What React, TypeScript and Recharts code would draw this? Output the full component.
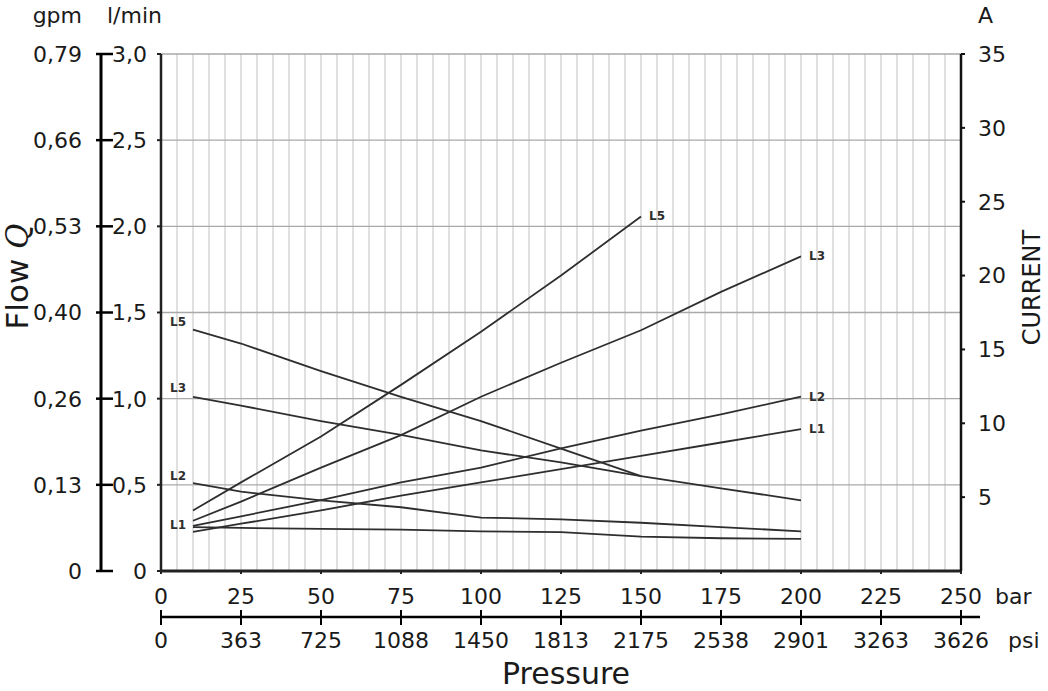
import { LineChart, Line, XAxis, YAxis, CartesianGrid, LabelList } from "recharts";

const FONT = "DejaVu Sans";
const INK = "#1a1a1a";
const CURVE = "#2e2e2e";

const pressure = [10, 25, 50, 75, 100, 125, 150, 175, 200];

// flow Q, l/min (falling curves, left axis)
const flowL5 = [1.4, 1.32, 1.16, 1.01, 0.87, 0.71, 0.55];
const flowL3 = [1.01, 0.96, 0.87, 0.79, 0.7, 0.63, 0.55, 0.48, 0.41];
const flowL2 = [0.51, 0.46, 0.41, 0.37, 0.31, 0.3, 0.28, 0.255, 0.23];
const flowL1 = [0.255, 0.25, 0.245, 0.24, 0.23, 0.226, 0.2, 0.19, 0.186];

// current, A (rising curves, right axis)
const currentL5 = [4.1, 6.0, 9.1, 12.6, 16.2, 20.0, 24.0];
const currentL3 = [3.4, 4.7, 7.0, 9.2, 11.8, 14.1, 16.3, 18.9, 21.3];
const currentL2 = [3.05, 3.7, 4.8, 6.0, 7.0, 8.3, 9.5, 10.6, 11.8];
const currentL1 = [2.65, 3.2, 4.1, 5.1, 6.0, 6.9, 7.8, 8.7, 9.6];

// axes
const barTicks = [0, 25, 50, 75, 100, 125, 150, 175, 200, 225, 250];
const psiTickLabels = ["0", "363", "725", "1088", "1450", "1813", "2175", "2538", "2901", "3263", "3626"];
const flowTicks = [0, 0.5, 1, 1.5, 2, 2.5, 3];
const flowTickLabels = ["0", "0,5", "1,0", "1,5", "2,0", "2,5", "3,0"];
const gpmTickLabels = ["0", "0,13", "0,26", "0,40", "0,53", "0,66", "0,79"];
const currentTicks = [5, 10, 15, 20, 25, 30, 35];
const fineBarGrid = Array.from({ length: 51 }, (_, i) => i * 5);

const data = pressure.map((p, i) => ({
  p,
  flowL5: flowL5[i],
  flowL3: flowL3[i],
  flowL2: flowL2[i],
  flowL1: flowL1[i],
  currentL5: currentL5[i],
  currentL3: currentL3[i],
  currentL2: currentL2[i],
  currentL1: currentL1[i],
}));

const tickText = { fill: INK, fontSize: 22, fontFamily: FONT };

// left side: l/min label next to the plot, gpm scale further out on its own line
function FlowTick(props: any) {
  const { x, y, index } = props;
  return (
    <g>
      <text x={x - 10} y={y} dy="0.36em" textAnchor="end" {...tickText}>
        {flowTickLabels[index]}
      </text>
      <line x1={x - 61} x2={x - 44} y1={y} y2={y} stroke="#000" strokeWidth={2.5} />
      <text x={x - 75} y={y} dy="0.36em" textAnchor="end" {...tickText}>
        {gpmTickLabels[index]}
      </text>
    </g>
  );
}

// bottom: bar label under the plot, psi scale below it
function BarTick(props: any) {
  const { x, y, index } = props;
  return (
    <g>
      <text x={x} y={y + 14} dy="0.73em" textAnchor="middle" {...tickText}>
        {barTicks[index]}
      </text>
      <line x1={x} x2={x} y1={y + 36} y2={y + 51} stroke="#000" strokeWidth={2} />
      <text x={x} y={y + 58} dy="0.73em" textAnchor="middle" {...tickText}>
        {psiTickLabels[index]}
      </text>
    </g>
  );
}

const flowTitle = (props: any) => {
  const vb = props.viewBox;
  const cx = vb.x + 28;
  const cy = vb.y + vb.height / 2 - 36;
  return (
    <g>
      <line x1={vb.x + 101} x2={vb.x + 101} y1={vb.y} y2={vb.y + vb.height} stroke="#000" strokeWidth={3} />
      <text x={vb.x + 82} y={23} textAnchor="end" {...tickText}>gpm</text>
      <text x={vb.x + 107} y={23} textAnchor="start" {...tickText}>l/min</text>
      <text x={cx} y={cy} transform={`rotate(-90, ${cx}, ${cy})`} textAnchor="middle" fill={INK} fontSize={31} fontFamily={FONT}>
        Flow <tspan fontFamily="DejaVu Serif" fontStyle="italic">Q</tspan>
      </text>
    </g>
  );
};

const currentTitle = (props: any) => {
  const vb = props.viewBox;
  const cx = vb.x + 79;
  const cy = vb.y + vb.height / 2 - 25;
  return (
    <g>
      <text x={vb.x + 17} y={23} textAnchor="start" {...tickText}>A</text>
      <text x={cx} y={cy} transform={`rotate(-90, ${cx}, ${cy})`} textAnchor="middle" fill={INK} fontSize={24} fontFamily={FONT}>
        CURRENT
      </text>
    </g>
  );
};

const pressureTitle = (props: any) => {
  const vb = props.viewBox;
  const psiY = vb.y + 46;
  return (
    <g>
      <text x={vb.x + vb.width + 34} y={vb.y + 33} textAnchor="start" {...tickText}>bar</text>
      <line x1={vb.x} x2={vb.x + vb.width + 19} y1={psiY} y2={psiY} stroke="#000" strokeWidth={2.5} />
      <text x={vb.x + vb.width + 47} y={psiY + 31} textAnchor="start" {...tickText}>psi</text>
      <text x={vb.x + vb.width / 2 + 5} y={vb.y + 113} textAnchor="middle" fill={INK} fontSize={30} fontFamily={FONT}>
        Pressure
      </text>
    </g>
  );
};

const curveTag = { fontSize: 12, fontWeight: 700, fontFamily: FONT, fill: CURVE };

const startTag = (name: string, dy: number) => (props: any) => {
  if (props.index !== 0) return null;
  return (
    <text x={props.x - 7} y={props.y + dy} textAnchor="end" {...curveTag}>
      {name}
    </text>
  );
};

const endTag = (name: string, count: number) => (props: any) => {
  if (props.index !== count - 1) return null;
  return (
    <text x={props.x + 8} y={props.y + 4} textAnchor="start" {...curveTag}>
      {name}
    </text>
  );
};

const curve = {
  type: "linear" as const,
  stroke: CURVE,
  strokeWidth: 1.8,
  dot: false,
  isAnimationActive: false,
};

export default function App() {
  return (
    <div style={{ position: "absolute", left: 0, top: 0, fontFamily: FONT }}>
      <LineChart width={1048} height={691} data={data} margin={{ top: 54, right: 0, bottom: 0, left: 0 }}>
        <CartesianGrid
          yAxisId="flow"
          horizontal={false}
          verticalValues={fineBarGrid}
          stroke="#cfcfcf"
          strokeWidth={1.3}
        />
        <CartesianGrid yAxisId="flow" vertical={false} stroke="#a9a9a9" strokeWidth={1.3} />
        <XAxis
          dataKey="p"
          type="number"
          domain={[0, 250]}
          ticks={barTicks}
          interval={0}
          height={120}
          tickSize={3}
          tickMargin={0}
          tick={<BarTick />}
          axisLine={{ stroke: "#222", strokeWidth: 3 }}
          tickLine={{ stroke: "#222", strokeWidth: 2 }}
          label={{ content: pressureTitle }}
        />
        <YAxis
          yAxisId="flow"
          type="number"
          domain={[0, 3]}
          ticks={flowTicks}
          interval={0}
          width={161}
          tickSize={4}
          tickMargin={0}
          tick={<FlowTick />}
          axisLine={{ stroke: "#222", strokeWidth: 2.5 }}
          tickLine={{ stroke: "#222", strokeWidth: 2 }}
          label={{ content: flowTitle }}
        />
        <YAxis
          yAxisId="current"
          orientation="right"
          type="number"
          domain={[0, 35]}
          ticks={currentTicks}
          interval={0}
          width={87}
          tickSize={4}
          tickMargin={13}
          tick={tickText}
          axisLine={{ stroke: "#111", strokeWidth: 2.5 }}
          tickLine={{ stroke: "#111", strokeWidth: 2 }}
          label={{ content: currentTitle }}
        />

        <Line {...curve} yAxisId="flow" dataKey="flowL5">
          <LabelList content={startTag("L5", -4)} />
        </Line>
        <Line {...curve} yAxisId="flow" dataKey="flowL3">
          <LabelList content={startTag("L3", -5)} />
        </Line>
        <Line {...curve} yAxisId="flow" dataKey="flowL2">
          <LabelList content={startTag("L2", -3)} />
        </Line>
        <Line {...curve} yAxisId="flow" dataKey="flowL1">
          <LabelList content={startTag("L1", 2)} />
        </Line>

        <Line {...curve} yAxisId="current" dataKey="currentL5">
          <LabelList content={endTag("L5", currentL5.length)} />
        </Line>
        <Line {...curve} yAxisId="current" dataKey="currentL3">
          <LabelList content={endTag("L3", currentL3.length)} />
        </Line>
        <Line {...curve} yAxisId="current" dataKey="currentL2">
          <LabelList content={endTag("L2", currentL2.length)} />
        </Line>
        <Line {...curve} yAxisId="current" dataKey="currentL1">
          <LabelList content={endTag("L1", currentL1.length)} />
        </Line>
      </LineChart>
    </div>
  );
}
